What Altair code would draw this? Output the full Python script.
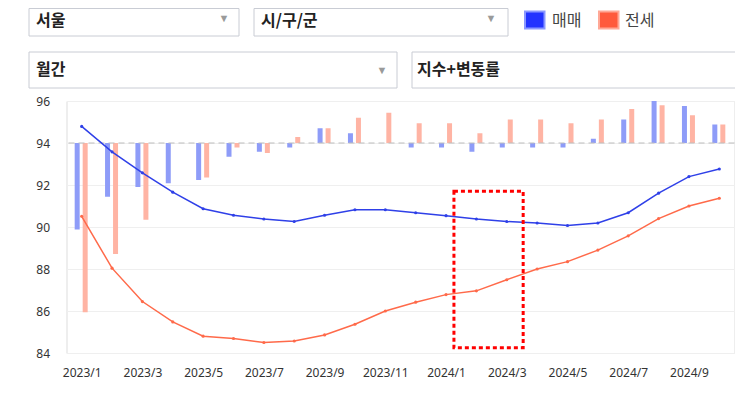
import altair as alt
import pandas as pd

# ---- data ----
months = ["2023/1", "2023/2", "2023/3", "2023/4", "2023/5", "2023/6", "2023/7", "2023/8",
          "2023/9", "2023/10", "2023/11", "2023/12", "2024/1", "2024/2", "2024/3", "2024/4",
          "2024/5", "2024/6", "2024/7", "2024/8", "2024/9", "2024/10"]
sale_index = [94.79, 93.58, 92.58, 91.66, 90.87, 90.56, 90.38, 90.26, 90.56, 90.82, 90.82,
              90.68, 90.54, 90.38, 90.26, 90.19, 90.07, 90.19, 90.68, 91.61, 92.40, 92.76]
jeonse_index = [90.51, 88.04, 86.45, 85.48, 84.80, 84.69, 84.50, 84.57, 84.86, 85.37, 86.00,
                86.42, 86.78, 86.96, 87.49, 88.00, 88.35, 88.90, 89.58, 90.40, 91.00, 91.37]
sale_rate = [-2.06, -1.28, -1.05, -0.96, -0.88, -0.33, -0.21, -0.11, 0.35, 0.23, 0.0,
             -0.11, -0.11, -0.21, -0.11, -0.11, -0.11, 0.10, 0.56, 1.03, 0.88, 0.44]
jeonse_rate = [-4.03, -2.64, -1.83, None, -0.82, -0.11, -0.24, 0.14, 0.35, 0.60, 0.72,
               0.47, 0.47, 0.23, 0.56, 0.56, 0.47, 0.56, 0.81, 0.90, 0.66, 0.44]
series = ["매매", "전세"]
y_ticks = [84, 86, 88, 90, 92, 94, 96]
highlight_x = [12.76, 15.04]   # month-position units (2024/1 .. 2024/3 region)
highlight_y = [84.25, 91.7]

BLUE_LINE = "#2f40e8"
ORANGE_LINE = "#ff6a4a"
BLUE_BAR = "#8e9cf8"
ORANGE_BAR = "#ffb4a4"
FONT = "Noto Sans"
KFONT = "Noto Sans CJK KR"

wide = pd.DataFrame({"month": months, "sale_index": sale_index, "jeonse_index": jeonse_index,
                     "sale_rate": sale_rate, "jeonse_rate": jeonse_rate})
lines_df = pd.DataFrame({
    "month": months + months,
    "series": [series[0]] * len(months) + [series[1]] * len(months),
    "index": sale_index + jeonse_index,
})

W, H = 668, 252
idx_scale = alt.Scale(domain=[84, 96], nice=False, zero=False)
rate_scale = alt.Scale(domain=[-5, 1], nice=False, zero=False)
band_x = alt.X("month:O", sort=months, scale=alt.Scale(type="band", paddingInner=0, paddingOuter=0), axis=None)

bars_sale = alt.Chart(wide).mark_bar(width=5, xOffset=-4.5, color=BLUE_BAR, clip=True).encode(
    x=band_x,
    y=alt.Y("sale_rate:Q", scale=rate_scale, axis=None),
)
bars_jeonse = alt.Chart(wide).mark_bar(width=5, xOffset=3.5, color=ORANGE_BAR, clip=True).encode(
    x=band_x,
    y=alt.Y("jeonse_rate:Q", scale=rate_scale, axis=None),
)

baseline = alt.Chart(alt.Data(values=[{}])).mark_rule(color="#bdbdbd", strokeDash=[6, 4], strokeWidth=1.2).encode(
    y=alt.Y(datum=0, type="quantitative", scale=rate_scale, axis=None),
)

lines = alt.Chart(lines_df).mark_line(
    strokeWidth=1.5,
    point=alt.OverlayMarkDef(filled=True, size=10),
).encode(
    x=alt.X("month:O", sort=months, title=None,
            scale=alt.Scale(type="point", padding=0.5),
            axis=alt.Axis(values=months[::2], labelAngle=0, ticks=False, domain=False,
                          labelPadding=14, labelFontSize=12, labelColor="#333333", labelFont=FONT,
                          grid=False)),
    y=alt.Y("index:Q", scale=idx_scale, title=None,
            axis=alt.Axis(values=y_ticks, ticks=False, domain=False, labelPadding=17,
                          labelFontSize=12, labelColor="#333333", labelFont=FONT,
                          grid=True, gridColor="#efefef")),
    color=alt.Color("series:N", scale=alt.Scale(domain=series, range=[BLUE_LINE, ORANGE_LINE]), legend=None),
)

hl = alt.Chart(alt.Data(values=[{"x": highlight_x[0], "x2": highlight_x[1],
                                 "y": highlight_y[0], "y2": highlight_y[1]}])).mark_rect(
    fill=None, fillOpacity=0, stroke="#ff0000", strokeWidth=3, strokeDash=[4, 3]
).encode(
    x=alt.X("x:Q", scale=alt.Scale(domain=[0, len(months)], nice=False, zero=False), axis=None),
    x2="x2:Q",
    y=alt.Y("y:Q", scale=idx_scale, axis=None),
    y2="y2:Q",
)

one = alt.Data(values=[{}])

def box(x0, x1, y0, y1):
    return alt.Chart(one).mark_rect(fill="white", stroke="#c9ccd4", strokeWidth=1).encode(
        x=alt.value(x0), x2=alt.value(x1), y=alt.value(y0), y2=alt.value(y1))

def label(txt, x, y, size=16, weight="bold", color="#222222", font=KFONT, align="left"):
    return alt.Chart(one).mark_text(align=align, baseline="middle", fontSize=size,
                                    fontWeight=weight, color=color, font=font).encode(
        x=alt.value(x), y=alt.value(y), text=alt.value(txt))

def swatch(x0, x1, y0, y1, fill, stroke):
    return alt.Chart(one).mark_rect(fill=fill, stroke=stroke, strokeWidth=2).encode(
        x=alt.value(x0), x2=alt.value(x1), y=alt.value(y0), y2=alt.value(y1))

ui = [
    box(-37.5, 172.5, -92.5, -65),
    box(187.5, 441.5, -92.5, -65),
    box(-37.5, 330.5, -49, -13),
    box(345.5, 720, -49, -13),
    label("서울", -30.5, -80),
    label("시/구/군", 194.5, -80),
    label("월간", -30.5, -31),
    label("지수+변동률", 350.5, -31),
    label("▼", 157.5, -82, size=11, weight="normal", color="#9a9a9a", font=FONT, align="center"),
    label("▼", 424.5, -82, size=11, weight="normal", color="#9a9a9a", font=FONT, align="center"),
    label("▼", 315.5, -30, size=11, weight="normal", color="#9a9a9a", font=FONT, align="center"),
    swatch(458.5, 478, -89.5, -72.5, "#2233ff", "#8a98ff"),
    label("매매", 485.5, -80, weight="normal", color="#444444"),
    swatch(532.5, 552, -89.5, -72.5, "#ff5a3c", "#ffa896"),
    label("전세", 558.5, -80, weight="normal", color="#444444"),
]

chart = alt.layer(bars_sale, bars_jeonse, baseline, lines, hl, *ui).resolve_scale(
    x="independent", y="independent", color="independent"
).properties(
    width=W, height=H,
    autosize=alt.AutoSizeParams(type="none"),
    padding={"left": 58.5, "top": 93, "right": 0.5, "bottom": 33},
).configure_view(stroke="#e8e8e8", strokeWidth=1).configure(background="white")

chart.save("out.html", embed_options={"renderer": "svg", "actions": False})
